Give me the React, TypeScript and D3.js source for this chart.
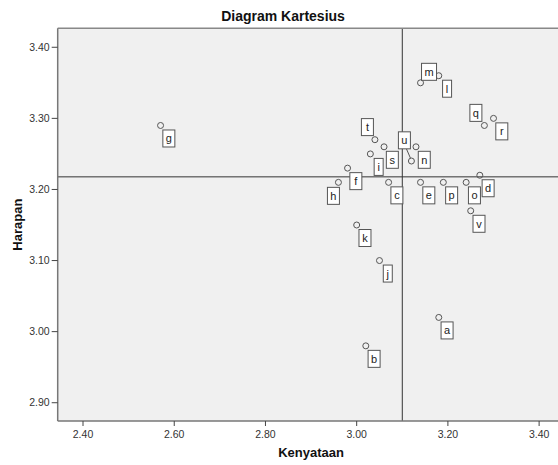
import React from "react";
import * as d3 from "d3";

const labels = ["a","b","c","d","e","f","g","h","i","j","k","l","m","n","o","p","q","r","s","t","u","v"];
const kenyataan = [3.18,3.02,3.07,3.27,3.14,2.98,2.57,2.96,3.03,3.05,3.00,3.18,3.14,3.13,3.24,3.19,3.28,3.30,3.06,3.04,3.12,3.25];
const harapan = [3.02,2.98,3.21,3.22,3.21,3.23,3.29,3.21,3.25,3.10,3.15,3.36,3.35,3.26,3.21,3.21,3.29,3.30,3.26,3.27,3.24,3.17];
const xTicks = [2.4, 2.6, 2.8, 3.0, 3.2, 3.4];
const yTicks = [2.9, 3.0, 3.1, 3.2, 3.3, 3.4];

const W = 558, H = 465;
const M = { left: 57.7, right: 558, top: 28.3, bottom: 421 };

// label placement relative to point (default: lower right)
const PLACE: Record<string, [number, number]> = {
  m: [8.5, -11],
  q: [-8.5, -12.6],
  t: [-7.5, -12.6],
  h: [-5, 13.5],
  u: [-7, -20.7],
};
const DEFAULT_PLACE: [number, number] = [8.3, 13];

const charW = (c: string) => (c === "l" || c === "i" || c === "j" ? 3 : c === "m" ? 9 : 6);

export default function App() {
  const x = d3.scaleLinear().domain([2.3445, 3.4414]).range([M.left, M.right]);
  const y = d3.scaleLinear().domain([2.8743, 3.4267]).range([M.bottom, M.top]);
  const meanX = d3.mean(kenyataan) as number;
  const meanY = d3.mean(harapan) as number;
  const font = "Arial, 'Liberation Sans', sans-serif";

  return (
    <svg width={W} height={H} style={{ position: "absolute", left: 0, top: 0 }} fontFamily={font}>
      <rect x={0} y={0} width={W} height={H} fill="#ffffff" />
      <text x={283} y={20.5} textAnchor="middle" fontSize={14} fontWeight="bold" fill="#111">Diagram Kartesius</text>
      <rect x={M.left} y={M.top} width={M.right - M.left} height={M.bottom - M.top} fill="#f0f0f0" />
      {/* reference lines at the means */}
      <line x1={x(meanX)} x2={x(meanX)} y1={M.top} y2={M.bottom} stroke="#333" strokeWidth={1} />
      <line x1={M.left} x2={M.right} y1={y(meanY)} y2={y(meanY)} stroke="#333" strokeWidth={1} />
      {/* border */}
      <line x1={M.left} x2={M.right} y1={M.top} y2={M.top} stroke="#888" strokeWidth={1.5} />
      <line x1={M.left} x2={M.left} y1={M.top} y2={M.bottom} stroke="#777" strokeWidth={1.5} />
      <line x1={M.left} x2={M.right} y1={M.bottom} y2={M.bottom} stroke="#777" strokeWidth={1.5} />
      {/* ticks */}
      {xTicks.map((t) => (
        <g key={"x" + t}>
          <line x1={x(t)} x2={x(t)} y1={M.bottom} y2={M.bottom + 5} stroke="#444" strokeWidth={1} />
          <text x={x(t)} y={438} textAnchor="middle" fontSize={10.5} fill="#333">{t.toFixed(2)}</text>
        </g>
      ))}
      {yTicks.map((t) => (
        <g key={"y" + t}>
          <line x1={M.left - 6} x2={M.left} y1={y(t)} y2={y(t)} stroke="#444" strokeWidth={1} />
          <text x={M.left - 8} y={y(t) + 3.7} textAnchor="end" fontSize={10.5} fill="#333">{t.toFixed(2)}</text>
        </g>
      ))}
      <text x={311} y={457} textAnchor="middle" fontSize={13} fontWeight="bold" fill="#111">Kenyataan</text>
      <text transform={`translate(21.5,${(M.top + M.bottom) / 2}) rotate(-90)`} textAnchor="middle" fontSize={13} fontWeight="bold" fill="#111">Harapan</text>
      {/* points */}
      {labels.map((lab, i) => {
        const px = x(kenyataan[i]);
        const py = y(harapan[i]);
        const [dx, dy] = PLACE[lab] || DEFAULT_PLACE;
        const bw = charW(lab) + 6;
        const bh = 17;
        const cx = px + dx, cy = py + dy;
        return (
          <g key={lab}>
            <circle cx={px} cy={py} r={3} fill="none" stroke="#555" strokeWidth={1} />
            {lab === "u" && (
              <line x1={cx + 2} x2={px - 1} y1={cy + bh / 2} y2={py - 3} stroke="#555" strokeWidth={1} />
            )}
            <rect x={cx - bw / 2} y={cy - bh / 2} width={bw} height={bh} fill="#ffffff" stroke="#555" strokeWidth={1} />
            <text x={cx} y={cy + 4} textAnchor="middle" fontSize={11} fill="#222">{lab}</text>
          </g>
        );
      })}
    </svg>
  );
}
